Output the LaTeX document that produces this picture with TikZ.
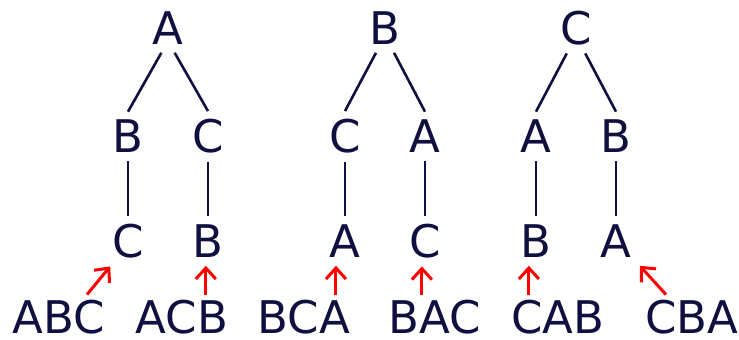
\documentclass[tikz,border=0pt]{standalone}
\usepackage{fontspec}
\setmainfont{DejaVu Sans}
\usetikzlibrary{positioning,arrows.meta}
\definecolor{navy}{RGB}{16,16,64}
\begin{document}
\begin{tikzpicture}[x=0.5pt, y=-0.5pt,
		main/.style = {text=navy, inner sep=4pt, font=\fontsize{22.5pt}{27pt}\selectfont},
		word/.style = {main, inner ysep=2.5pt},
		edge/.style = {draw=navy, line width=1.3pt},
		arr/.style = {draw=red, line width=1.5pt, -{Straight Barb[length=5.5pt,width=10pt]}},
		node distance = 54.25pt and 20pt, on grid]
		\useasboundingbox (0,0) rectangle (739,340);
		% first tree
		\node[main] (a) at (168,28) {A};
		\node[main] (ab) [below left=of a] {B};
		\node[main] (ac) [below right=of a] {C};
		\node[main] (abc) [below=52.25pt of ab] {C};
		\node[main] (acb) [below=52.25pt of ac] {B};
		\node[word] (ABC) [below left=38pt and 34.5pt of abc] {ABC};
		\node[word] (ACB) [below left=38pt and 13pt of acb] {ACB};
		% second tree
		\node[main] (b) at (385,28) {B};
		\node[main] (bc) [below left=of b] {C};
		\node[main] (ba) [below right=of b] {A};
		\node[main] (bca) [below=52.25pt of bc] {A};
		\node[main] (bac) [below=52.25pt of ba] {C};
		\node[word] (BCA) [below left=38pt and 20.5pt of bca] {BCA};
		\node[word] (BAC) [below right=38pt and 5pt of bac] {BAC};
		% third tree
		\node[main] (c) at (576,28) {C};
		\node[main] (ca) [below left=of c] {A};
		\node[main] (cb) [below right=of c] {B};
		\node[main] (cab) [below=52.25pt of ca] {B};
		\node[main] (cba) [below=52.25pt of cb] {A};
		\node[word] (CAB) [below right=38pt and 11pt of cab] {CAB};
		\node[word] (CBA) [below right=38pt and 38pt of cba] {CBA};
		\draw[edge] (a.255) -- (ab.north);
		\draw[edge] (a.285) -- (ac.north);
		\draw[edge] (ab) -- (abc);
		\draw[edge] (ac) -- (acb);
		\draw[edge] (b.250) -- (bc.north);
		\draw[edge] (b.290) -- (ba.north);
		\draw[edge] (bc) -- (bca);
		\draw[edge] (ba) -- (bac);
		\draw[edge] (c.250) -- (ca.north);
		\draw[edge] (c.290) -- (cb.north);
		\draw[edge] (ca) -- (cab);
		\draw[edge] (cb) -- (cba);
		% arrows to the leaves
		\draw[arr] ([xshift=14pt]ABC.north) -- (abc.235);
		\draw[arr] (acb.265 |- ACB.north) -- (acb.265);
		\draw[arr] (bca.250 |- BCA.north) -- (bca.250);
		\draw[arr] (bac.263 |- BAC.north) -- (bac.263);
		\draw[arr] (cab.254 |- CAB.north) -- (cab.254);
		\draw[arr] ([xshift=-13pt]CBA.north) -- (cba.south east);
	\end{tikzpicture}
\end{document}
